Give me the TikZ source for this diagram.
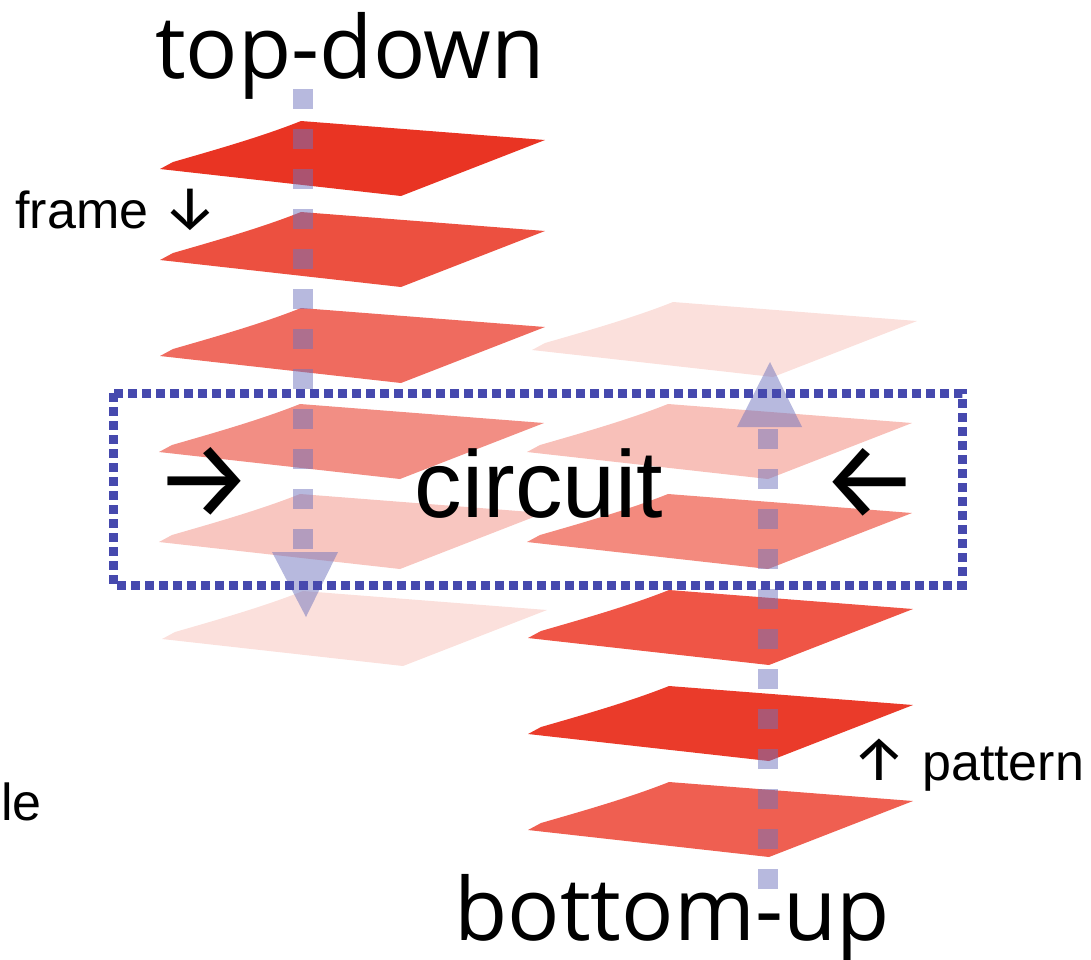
\documentclass[tikz,border=0pt]{standalone}
\usepackage{fontspec}
\setmainfont{Liberation Sans}
\newfontfamily\osans{Open Sans}
\newfontfamily\arrowfont{Fira Sans}
\definecolor{lA}{HTML}{E93423}
\definecolor{lB}{HTML}{EC5040}
\definecolor{lC}{HTML}{EF6B5F}
\definecolor{lD}{HTML}{F28E84}
\definecolor{lE}{HTML}{F8C6C0}
\definecolor{lF}{HTML}{FBE0DC}
\definecolor{rA}{HTML}{FBE0DC}
\definecolor{rB}{HTML}{F8C0B9}
\definecolor{rC}{HTML}{F38A7E}
\definecolor{rD}{HTML}{EF5546}
\definecolor{rE}{HTML}{EA3B2A}
\definecolor{rF}{HTML}{EF5F51}
\definecolor{flowblue}{HTML}{6F73BD}
\definecolor{dotblue}{HTML}{4649AE}
\newcommand\smallarrow[1]{{\arrowfont\fontsize{62}{62}\selectfont #1}}
\begin{document}
\begin{tikzpicture}[x=1pt,y=-1pt,
  plane/.pic={\fill (-141,48) -- (-128,41) .. controls (-90,30) and (-40,16) .. (0,0) -- (244,19) -- (100,75) -- cycle;},
  flowline/.style={draw=flowblue, draw opacity=0.5, line width=20pt, dash pattern=on 20pt off 20pt},
  tri/.style={fill=flowblue, fill opacity=0.5},
  dotbox/.style={draw=dotblue, line width=9pt, dash pattern=on 9pt off 5pt},
  lbl/.style={inner sep=0pt, anchor=base},
  big/.style={font=\fontsize{95}{100}\selectfont},
  bigarrow/.style={inner sep=0pt, anchor=center, font=\arrowfont\fontsize{110}{112}\selectfont},
  bigos/.style={font=\osans\fontsize{87}{90}\selectfont},
  small/.style={font=\fontsize{52}{56}\selectfont}]
\useasboundingbox (0,0) rectangle (1091,959);
% left column of planes
\pic[fill=lA] at (301,121) {plane};
\pic[fill=lB] at (301,212) {plane};
\pic[fill=lC] at (301,308) {plane};
\pic[fill=lD] at (300,404) {plane};
\pic[fill=lE] at (300,494) {plane};
\pic[fill=lF] at (303,591) {plane};
% right column of planes
\pic[fill=rA] at (673,302) {plane};
\pic[fill=rB] at (668,404) {plane};
\pic[fill=rC] at (668,494) {plane};
\pic[fill=rD] at (669,590) {plane};
\pic[fill=rE] at (669,686) {plane};
\pic[fill=rF] at (669,782) {plane};
% flows
\coordinate (tdS) at (303,89);
\coordinate (tdE) at (303,549);
\coordinate (buS) at (768,889);
\coordinate (buE) at (768,429);
\draw[flowline] (tdS) -- (tdE);
\draw[flowline] (buS) -- (buE);
\fill[tri] (272,552) -- (338,552) -- (306,617) -- cycle;
\fill[tri] (737,427) -- (802,427) -- (770,362) -- cycle;
% circuit box
\draw[dotbox] (113,393) rectangle (962,585);
% labels
\node[lbl,bigos] (td) at (350,78) {top-down};
\node[lbl,bigos] (bu) at (672,940) {bottom-up};
\node[lbl,big] (ci) at (539,517) {circuit};
\node[bigarrow] (ra) at (204,482) {→};
\node[bigarrow] (la) at (870,483) {←};
\node[lbl,small] (fr) at (117,228) {frame \smallarrow{↓}};
\node[lbl,small] (pa) at (968,780) {\smallarrow{↑} pattern};
\node[lbl,small,anchor=base east] (le) at (42,820) {le};
\end{tikzpicture}
\end{document}
